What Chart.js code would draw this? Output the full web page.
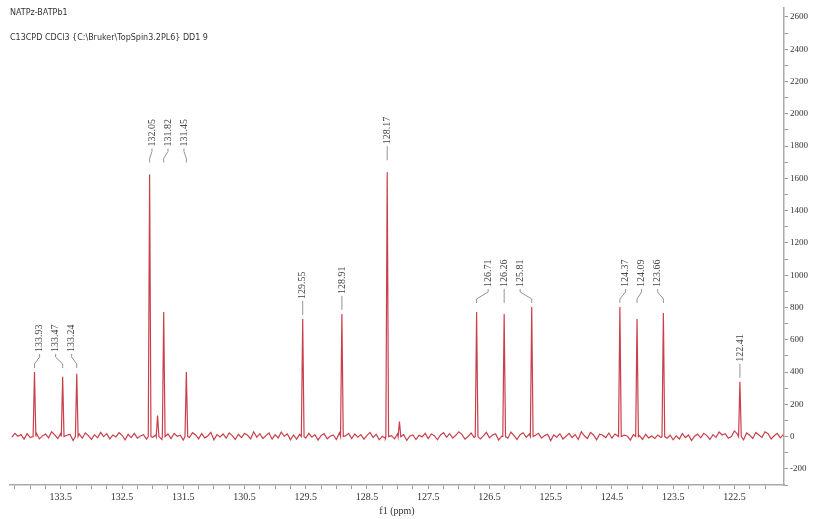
<!DOCTYPE html>
<html>
<head>
<meta charset="utf-8">
<script src="https://cdn.jsdelivr.net/npm/chart.js@4.4.1/dist/chart.umd.min.js"></script>
<style>
  html, body { margin: 0; padding: 0; background: #fff; }
  #wrap { width: 814px; height: 519px; position: relative; }
</style>
</head>
<body>
<div id="wrap"><canvas id="nmr"></canvas></div>
<script>
// labelled peaks (ppm, intensity)
const peakPpm = [133.93, 133.47, 133.24, 132.05, 131.82, 131.45, 129.55, 128.91, 128.17,
                 126.71, 126.26, 125.81, 124.37, 124.09, 123.66, 122.41];
const peakHeight = [400, 370, 389, 1624, 772, 400, 729, 760, 1637,
                    772, 760, 803, 803, 729, 766, 340];
// peak labels are drawn in these clusters
const labelGroups = [[0, 1, 2], [3, 4, 5], [6], [7], [8], [9, 10, 11], [12, 13, 14], [15]];

// small unlabelled bumps
const minorPpm = [131.92, 127.97];
const minorHeight = [130, 93];

// baseline noise, every 0.05 ppm from 121.70 up to 134.30
const baseStart = 121.70;
const baseStep = 0.05;
const baseNoise = [
  12, -8, 20, 5, -15, 18, 30, -5, 10, 25, -12, 8, 22, -20, 5, 15, 35, 0, -10, 18,
  10, 28, -5, 12, -18, 6, 20, -8, 15, 2, -25, 10, -6, 18, -15, 4, -20, 8, -10, 12,
  -5, 10, -12, 3, -8, 14, -18, 6, -2, 12, -22, 4, 9, -14, 0, 16, -10, 22, -6, 8,
  15, -20, 10, 25, -12, 5, 30, -18, 12, -6, 20, 2, -15, 18, -4, 10, -25, 14, 6, -10,
  20, 8, -12, 16, -5, 24, 12, -18, 6, 28, -10, 14, 2, -22, 18, 10, -8, 26, 4, -14,
  12, -6, 22, 0, -16, 14, 30, 8, -10, 18, -4, 24, 10, -20, 6, 16, -12, 20, -2, 8,
  -18, 10, 4, -24, 12, -8, 18, -14, 6, 22, -10, 2, -20, 14, -6, 26, 8, -16, 12, -4,
  16, -12, 20, 4, -8, 24, -18, 10, 2, -14, 18, 6, -22, 12, -4, 20, -10, 8, 14, -16,
  10, -20, 16, 2, 28, -8, 12, -16, 22, 6, -12, 18, -4, 30, -14, 8, 20, -6, 14, -18,
  6, 22, -10, 16, -2, 12, -20, 26, 4, -8, 18, -14, 10, 24, -6, 14, -22, 8, 2, 20,
  -12, 16, 6, -18, 22, 10, -4, 28, -16, 12, 4, -10, 20, -6, 14, -20, 8, 24, -2, 10,
  -14, 18, 0, 26, -8, 12, -18, 6, 22, -10, 16, 2, -24, 14, 8, -6, 20, -12, 10, 30,
  -8, 16, 4, -14, 22, 10, -6, 18, -16, 12, 2, 20, -4
];

const xMin = 121.69, xMax = 134.33;
const yMin = -300, yMax = 2655;

const headerLines = ["NATPz-BATPb1", "C13CPD CDCl3 {C:\\Bruker\\TopSpin3.2PL6} DD1 9"];

// build one spectrum trace
const halfWidth = 0.022;
const allPeaks = peakPpm.map((p, i) => [p, peakHeight[i]])
  .concat(minorPpm.map((p, i) => [p, minorHeight[i]]));

var points = [];
baseNoise.forEach((v, i) => {
  const x = Math.round((baseStart + i * baseStep) * 100) / 100;
  if (!allPeaks.some(pk => Math.abs(pk[0] - x) < halfWidth + 0.006)) {
    points.push({ x: x, y: v });
  }
});
for (let pk of allPeaks) {
  points.push({ x: pk[0] - halfWidth, y: 0 });
  points.push({ x: pk[0], y: pk[1] });
  points.push({ x: pk[0] + halfWidth, y: 0 });
}
points.sort((a, b) => a.x - b.x);

const peakLabelPlugin = {
  id: 'peakLabels',
  afterDatasetsDraw(chart) {
    const ctx = chart.ctx;
    const xs = chart.scales.x, ys = chart.scales.y;
    ctx.save();
    ctx.strokeStyle = '#777';
    ctx.fillStyle = '#444';
    ctx.lineWidth = 0.8;
    ctx.font = '10px "Liberation Serif"';
    for (let group of labelGroups) {
      const px = group.map(i => xs.getPixelForValue(peakPpm[i]));
      const top = Math.min(...group.map(i => ys.getPixelForValue(peakHeight[i])));
      const center = (Math.min(...px) + Math.max(...px)) / 2;
      // taller peaks get a little more room above them
      const y0 = top - (top < 250 ? 28 : 20);
      group.forEach((idx, k) => {
        const lx = center + (k - (group.length - 1) / 2) * 16;
        ctx.beginPath();
        ctx.moveTo(lx, y0 + 2);
        ctx.lineTo(lx, y0 + 5);
        ctx.lineTo(px[k], y0 + 12);
        ctx.lineTo(px[k], y0 + 16);
        ctx.stroke();
        ctx.save();
        ctx.translate(lx, y0);
        ctx.rotate(-Math.PI / 2);
        ctx.textAlign = 'left';
        ctx.textBaseline = 'middle';
        ctx.fillText(peakPpm[idx].toFixed(2), 0, 0);
        ctx.restore();
      });
    }
    ctx.restore();
  }
};

const headerPlugin = {
  id: 'header',
  afterDraw(chart) {
    const ctx = chart.ctx;
    ctx.save();
    ctx.fillStyle = '#333';
    ctx.font = '8px "DejaVu Sans"';
    ctx.textBaseline = 'middle';
    ctx.fillText(headerLines[0], chart.chartArea.left, 13);
    ctx.fillText(headerLines[1], chart.chartArea.left, 38);
    ctx.restore();
  }
};

new Chart(document.getElementById('nmr'), {
  type: 'line',
  data: {
    datasets: [{
      data: points,
      borderColor: '#c8404c',
      borderWidth: 1.2,
      pointRadius: 0,
      tension: 0,
      fill: false
    }]
  },
  options: {
    responsive: true,
    maintainAspectRatio: false,
    animation: false,
    layout: { padding: { left: 10, right: 4, top: 8, bottom: 2 } },
    plugins: { legend: { display: false }, tooltip: { enabled: false } },
    scales: {
      x: {
        type: 'linear',
        reverse: true,
        min: xMin,
        max: xMax,
        afterBuildTicks: (scale) => {
          var t = [];
          for (let v = 122.0; v <= 134.26; v += 0.25) t.push({ value: Math.round(v * 100) / 100 });
          scale.ticks = t;
        },
        grid: { display: true, drawOnChartArea: false, tickLength: 4, color: '#999' },
        border: { display: true, color: '#aaa', width: 1.5 },
        ticks: {
          autoSkip: false,
          maxRotation: 0,
          padding: 2,
          color: '#333',
          font: { family: 'Liberation Serif', size: 10 },
          callback: (v) => (Math.abs((v - 0.5) % 1) < 0.001 ? v.toFixed(1) : '')
        },
        title: {
          display: true,
          text: 'f1 (ppm)',
          color: '#333',
          font: { family: 'Liberation Serif', size: 10 },
          padding: { top: 0, bottom: 0 }
        }
      },
      y: {
        position: 'right',
        min: yMin,
        max: yMax,
        afterBuildTicks: (scale) => {
          var t = [];
          for (let v = -300; v <= 2600; v += 100) t.push({ value: v });
          scale.ticks = t;
        },
        grid: { display: true, drawOnChartArea: false, tickLength: 4, color: '#999' },
        border: { display: true, color: '#aaa', width: 1.5 },
        ticks: {
          autoSkip: false,
          padding: 2,
          color: '#333',
          font: { family: 'Liberation Serif', size: 9 },
          callback: (v) => (v % 200 === 0 ? String(v) : '')
        }
      }
    }
  },
  plugins: [peakLabelPlugin, headerPlugin]
});
</script>
</body>
</html>
